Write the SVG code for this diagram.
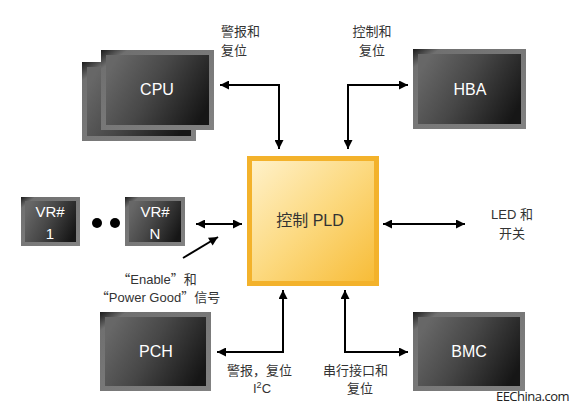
<svg xmlns="http://www.w3.org/2000/svg" width="576" height="410" viewBox="0 0 576 410">
<defs>
<linearGradient id="frame" x1="0" y1="0" x2="1" y2="1">
<stop offset="0" stop-color="#1a1a1a"/>
<stop offset="0.12" stop-color="#707070"/>
<stop offset="1" stop-color="#828282"/>
</linearGradient>
<linearGradient id="inner" x1="0" y1="0.3" x2="1" y2="0.7">
<stop offset="0" stop-color="#676767"/>
<stop offset="0.45" stop-color="#474747"/>
<stop offset="1" stop-color="#161616"/>
</linearGradient>
<linearGradient id="pld" x1="0" y1="0" x2="1" y2="1">
<stop offset="0" stop-color="#fff2cc"/>
<stop offset="0.5" stop-color="#fcd97f"/>
<stop offset="1" stop-color="#f7bb35"/>
</linearGradient>
<marker id="ah" viewBox="0 0 10 10" refX="10" refY="5" markerWidth="10" markerHeight="9" markerUnits="userSpaceOnUse" orient="auto-start-reverse">
<path d="M0,0 L10,5 L0,10 z" fill="#000"/>
</marker>
</defs>
<style>
.frame{fill:url(#frame);}
.inner{fill:url(#inner);}
.box{font-family:"Liberation Sans","Noto Sans CJK SC",sans-serif;font-size:16px;fill:#fff;text-anchor:middle;}
.vr{font-family:"Liberation Sans",sans-serif;font-size:15px;fill:#fff;text-anchor:middle;}
.lbl{font-family:"Liberation Sans","Noto Sans CJK SC",sans-serif;font-size:13px;fill:#333;}
.q{font-family:"Noto Sans CJK SC",sans-serif;}
.c{text-anchor:middle;}
.ln{fill:none;stroke:#000;stroke-width:2;}
</style>
<rect width="576" height="410" fill="#fff"/>

<g id="cpu">
<rect class="frame" x="82" y="62" width="114" height="79"/>
<rect class="inner" x="87" y="67" width="104" height="69"/>
<rect class="frame" x="101" y="50" width="113" height="80"/>
<rect class="inner" x="106" y="55" width="103" height="70"/>
<text class="box" x="157" y="95">CPU</text>
</g>
<g id="hba">
<rect class="frame" x="413" y="49" width="113" height="80"/>
<rect class="inner" x="418" y="54" width="103" height="70"/>
<text class="box" x="470" y="95">HBA</text>
</g>
<g id="pch">
<rect class="frame" x="100" y="312" width="111" height="79"/>
<rect class="inner" x="105" y="317" width="101" height="69"/>
<text class="box" x="156" y="357">PCH</text>
</g>
<g id="bmc">
<rect class="frame" x="413" y="312" width="112" height="79"/>
<rect class="inner" x="418" y="317" width="102" height="69"/>
<text class="box" x="469" y="357">BMC</text>
</g>
<g id="vr1">
<rect class="frame" x="21" y="197" width="59" height="49"/>
<rect class="inner" x="25" y="201" width="51" height="41"/>
<text class="vr" x="50" y="217">VR#</text>
<text class="vr" x="50" y="239">1</text>
</g>
<g id="dots">
<circle cx="97" cy="223" r="5" fill="#000"/>
<circle cx="115" cy="223" r="5" fill="#000"/>
</g>
<g id="vrn">
<rect class="frame" x="125" y="197" width="60" height="49"/>
<rect class="inner" x="129" y="201" width="52" height="41"/>
<text class="vr" x="155" y="217">VR#</text>
<text class="vr" x="155" y="239">N</text>
</g>
<g id="pld-node">
<rect x="249.5" y="158.5" width="127" height="125" fill="url(#pld)" stroke="#f3b22b" stroke-width="5"/>
<text x="310" y="226" font-family="'Liberation Sans','Noto Sans CJK SC',sans-serif" font-size="16" fill="#333" text-anchor="middle">控制 PLD</text>
</g>

<g id="connectors">
<path class="ln" d="M279,149 V85 H220" marker-start="url(#ah)" marker-end="url(#ah)"/>
<path class="ln" d="M348,149 V85 H408" marker-start="url(#ah)" marker-end="url(#ah)"/>
<path class="ln" d="M196,224 H242" marker-start="url(#ah)" marker-end="url(#ah)"/>
<path class="ln" d="M183,258 L218,237" marker-end="url(#ah)"/>
<path class="ln" d="M383,224 H465" marker-start="url(#ah)" marker-end="url(#ah)"/>
<path class="ln" d="M283,290 V352 H217" marker-start="url(#ah)" marker-end="url(#ah)"/>
<path class="ln" d="M345,290 V352 H408" marker-start="url(#ah)" marker-end="url(#ah)"/>
</g>

<g id="labels">
<text class="lbl" x="221" y="36">警报和</text>
<text class="lbl" x="221" y="55">复位</text>
<text class="lbl c" x="372" y="36">控制和</text>
<text class="lbl c" x="372" y="55">复位</text>
<text class="lbl c" x="512" y="219">LED 和</text>
<text class="lbl c" x="512" y="238">开关</text>
<text class="lbl c" x="157" y="284"><tspan class="q">“</tspan>Enable<tspan class="q">”</tspan>和</text>
<text class="lbl c" x="158" y="302"><tspan class="q">“</tspan>Power Good<tspan class="q">”</tspan>信号</text>
<text class="lbl" x="227" y="375">警报，复位</text>
<text class="lbl c" x="262" y="393">I<tspan font-size="9" dy="-5">2</tspan><tspan dy="5">C</tspan></text>
<text class="lbl" x="323" y="375">串行接口和</text>
<text class="lbl c" x="360" y="393">复位</text>
<text x="569" y="401" font-family="'Open Sans','Liberation Sans',sans-serif" font-size="13" fill="#222" text-anchor="end" letter-spacing="-0.5">EEChina.com</text>
</g>
</svg>
